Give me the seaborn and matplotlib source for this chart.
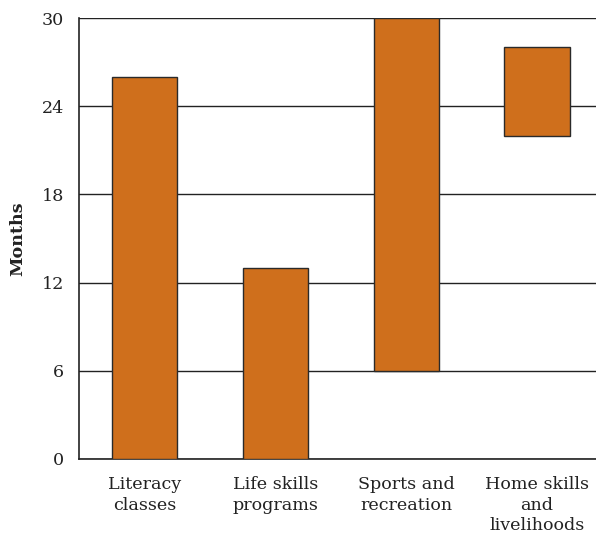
import matplotlib
matplotlib.use("Agg")
import matplotlib.pyplot as plt
import seaborn as sns
import pandas as pd

# floating bars: start and end month for each program
programs = ["Literacy\nclasses", "Life skills\nprograms", "Sports and\nrecreation", "Home skills\nand\nlivelihoods"]
start_month = [0, 0, 6, 22]
end_month = [26, 13, 30, 28]
y_ticks = [0, 6, 12, 18, 24, 30]

df = pd.DataFrame({"program": programs, "start": start_month, "end": end_month})
df["length"] = df["end"] - df["start"]

sns.set_style("white")
plt.rcParams["font.family"] = ["DejaVu Serif"]

fig = plt.figure(figsize=(5.96, 5.36), dpi=100)
ax = fig.add_axes([0.1326, 0.1437, 0.8674, 0.8227])

sns.barplot(data=df, x="program", y="length", bottom=df["start"].tolist(),
            color="#CF6F1C", saturation=1, width=0.5,
            edgecolor="#2a2a2a", linewidth=1, ax=ax, zorder=3)

ax.set_ylim(0, 30)
ax.set_xlim(-0.5, 3.45)
ax.set_yticks(y_ticks)
ax.yaxis.grid(True, color="#222222", linewidth=1, zorder=0)
ax.set_axisbelow(True)

for side in ["top", "right"]:
    ax.spines[side].set_visible(False)
for side in ["left", "bottom"]:
    ax.spines[side].set_color("#222222")
    ax.spines[side].set_linewidth(1.2)

ax.tick_params(axis="both", length=0, labelsize=12.6, colors="#222222")
ax.tick_params(axis="x", pad=12)
ax.tick_params(axis="y", pad=11)
ax.set_xticks(range(len(programs)))
ax.set_xticklabels(programs, linespacing=1.3)
ax.set_xlabel("")
ax.set_ylabel("Months", fontsize=12.6, fontweight="bold", labelpad=11, color="#222222")

fig.savefig("out.png", dpi=100)
